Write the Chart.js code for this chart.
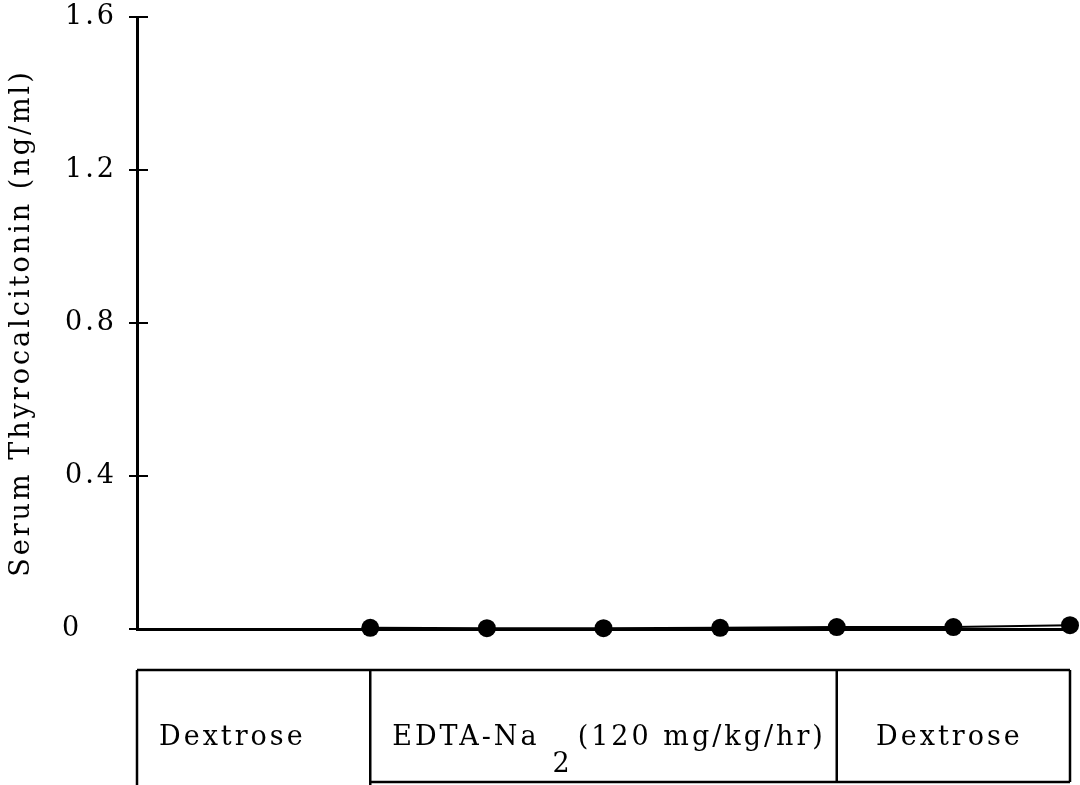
<!DOCTYPE html>
<html>
<head>
<meta charset="utf-8">
<script src="https://cdn.jsdelivr.net/npm/chart.js@4/dist/chart.umd.min.js"></script>
<style>
  html, body { margin: 0; padding: 0; background: #fff; }
  #wrap { width: 1080px; height: 785px; }
</style>
</head>
<body>
<div id="wrap"><canvas id="tcChart"></canvas></div>
<script>
const sampleTimes = [2, 3, 4, 5, 6, 7, 8];
const thyrocalcitonin = [0.003, 0.002, 0.002, 0.003, 0.005, 0.005, 0.01];
const yTicks = [0, 0.4, 0.8, 1.2, 1.6];
const phaseBounds = [0, 2, 6, 8];
const phaseLabels = ["Dextrose", "EDTA-Na_2 (120 mg/kg/hr)", "Dextrose"];

const FONT = "'DejaVu Serif', serif";
const FONT_SIZE = 27;
const SPACING = "3px";

// typewriter look: keep the letter spacing on the context (resets on resize)
const spacing = {
  id: "spacing",
  beforeLayout(chart) {
    chart.ctx.letterSpacing = SPACING;
  },
  beforeDraw(chart) {
    chart.ctx.letterSpacing = SPACING;
  },
};

// cross ticks to the right of the y axis, plus the treatment boxes under the plot
const extras = {
  id: "extras",
  afterDraw(chart) {
    const { ctx, chartArea, scales } = chart;
    const x = scales.x;
    const y = scales.y;
    ctx.save();
    ctx.strokeStyle = "#000";
    ctx.lineWidth = 2;
    yTicks.forEach((v) => {
      const py = y.getPixelForValue(v);
      ctx.beginPath();
      ctx.moveTo(chartArea.left, py);
      ctx.lineTo(chartArea.left + 11, py);
      ctx.stroke();
    });

    const top = chartArea.bottom + 41;
    const bottom = top + 112;
    const edges = phaseBounds.map((b) => x.getPixelForValue(b));
    ctx.lineWidth = 2.5;
    ctx.beginPath();
    ctx.moveTo(edges[0], top);
    ctx.lineTo(edges[edges.length - 1], top);
    ctx.moveTo(edges[1], bottom);
    ctx.lineTo(edges[edges.length - 1], bottom);
    edges.forEach((ex, i) => {
      ctx.moveTo(ex, top);
      ctx.lineTo(ex, i < 2 ? chart.height : bottom);
    });
    ctx.stroke();

    ctx.fillStyle = "#000";
    ctx.font = FONT_SIZE + "px " + FONT;
    ctx.letterSpacing = SPACING;
    ctx.textBaseline = "alphabetic";
    const base = top + 75;
    phaseLabels.forEach((label, i) => {
      const left = edges[i];
      const right = edges[i + 1];
      const parts = label.split("_");
      let tx;
      if (i === phaseLabels.length - 1) {
        tx = (left + right) / 2 - ctx.measureText(label).width / 2 - 4;
      } else {
        tx = left + 22;
      }
      ctx.fillText(parts[0], tx, base);
      if (parts.length > 1) {
        tx += ctx.measureText(parts[0]).width + 13;
        const sub = parts[1].charAt(0);
        ctx.fillText(sub, tx, base + 27);
        tx += ctx.measureText(sub).width + 5;
        ctx.fillText(parts[1].slice(1).trimStart(), tx, base);
      }
    });
    ctx.restore();
  },
};

new Chart(document.getElementById("tcChart"), {
  type: "scatter",
  data: {
    datasets: [
      {
        label: "Serum Thyrocalcitonin",
        data: sampleTimes.map((t, i) => ({ x: t, y: thyrocalcitonin[i] })),
        showLine: true,
        borderColor: "#000",
        borderWidth: 2,
        pointRadius: 9,
        pointHoverRadius: 9,
        pointBackgroundColor: "#000",
        pointBorderWidth: 0,
        clip: false,
      },
    ],
  },
  options: {
    responsive: true,
    maintainAspectRatio: false,
    animation: false,
    layout: {
      padding: { top: 17, right: 10, bottom: 156, left: 0 },
    },
    plugins: {
      legend: { display: false },
      tooltip: { enabled: false },
    },
    scales: {
      x: {
        type: "linear",
        min: 0,
        max: 8,
        afterFit: (scale) => {
          scale.height = 0;
        },
        grid: { display: false, drawTicks: false },
        ticks: { display: false },
        border: { display: true, color: "#000", width: 3 },
      },
      y: {
        min: 0,
        max: 1.6,
        afterFit: (scale) => {
          scale.width = 137;
          scale.paddingTop = 0;
          scale.paddingBottom = 0;
        },
        afterBuildTicks: (scale) => {
          scale.ticks = yTicks.map((v) => ({ value: v }));
        },
        grid: {
          drawOnChartArea: false,
          drawTicks: true,
          tickLength: 8,
          color: "#000",
          lineWidth: 2,
        },
        border: { display: true, color: "#000", width: 3 },
        ticks: {
          padding: 12,
          color: "#000",
          font: { family: FONT, size: FONT_SIZE },
          callback: (v) => (v === 0 ? "0   " : v.toFixed(1)),
        },
        title: {
          display: true,
          text: "Serum Thyrocalcitonin (ng/ml)",
          color: "#000",
          font: { family: FONT, size: FONT_SIZE },
          padding: { top: 6, bottom: 0 },
        },
      },
    },
  },
  plugins: [spacing, extras],
});
</script>
</body>
</html>
